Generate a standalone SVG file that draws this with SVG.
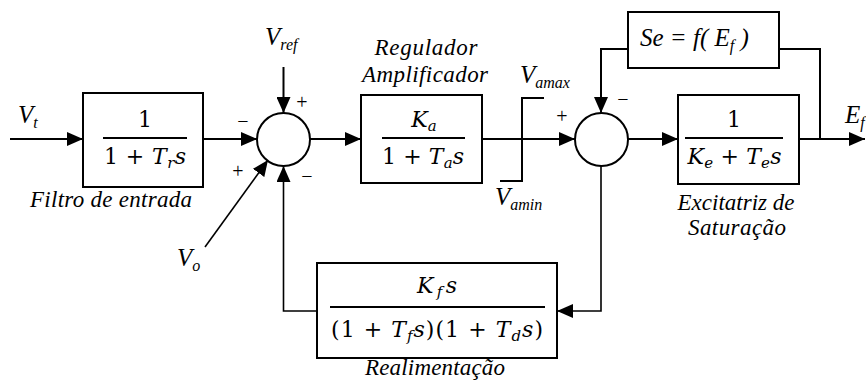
<svg xmlns="http://www.w3.org/2000/svg" width="866" height="385" viewBox="0 0 866 385">
<style>
.blk{fill:#fff;stroke:#000;stroke-width:2}
.frac{stroke:#000;stroke-width:2}
.ln{fill:none;stroke:#000;stroke-width:2}
.fb{fill:none;stroke:#000;stroke-width:1.6}
.lbl{font-family:'Liberation Serif','Times New Roman',serif;font-style:italic;font-size:23px;fill:#000}
.var{font-family:'Liberation Serif','Times New Roman',serif;font-style:italic;font-size:25px;fill:#000}
.math{font-family:'DejaVu Serif','Liberation Serif',serif;font-size:22px;fill:#000}
.it{font-style:italic}
.sign{font-family:'Liberation Serif','Times New Roman',serif;font-size:20px;fill:#000;text-anchor:middle}
</style>
<defs>
<marker id="ah" markerUnits="userSpaceOnUse" markerWidth="16" markerHeight="14" refX="16" refY="7" orient="auto">
<path d="M0,0 L16,7 L0,14 z" fill="#000"/>
</marker>
</defs>
<rect width="866" height="385" fill="#fff"/>

<g id="connectors">
<line class="ln" x1="10" y1="139" x2="83" y2="139" marker-end="url(#ah)"/>
<line class="ln" x1="203" y1="139" x2="257" y2="139" marker-end="url(#ah)"/>
<line class="ln" x1="283.5" y1="67" x2="283.5" y2="113" marker-end="url(#ah)"/>
<line class="ln" x1="310" y1="139" x2="361" y2="139" marker-end="url(#ah)"/>
<line class="ln" x1="482" y1="139" x2="575" y2="139" marker-end="url(#ah)"/>
<line class="ln" x1="628" y1="139" x2="678" y2="139" marker-end="url(#ah)"/>
<line class="ln" x1="799" y1="139" x2="865" y2="139" marker-end="url(#ah)"/>
<polyline class="ln" points="820,139 820,49 779,49"/>
<polyline class="ln" points="628,49 601,49 601,113" marker-end="url(#ah)"/>
<polyline class="fb" points="601,166 601,311 557,311" marker-end="url(#ah)"/>
<polyline class="fb" points="317,311 283.5,311 283.5,166" marker-end="url(#ah)"/>
<line class="fb" x1="205" y1="247" x2="268" y2="160" marker-end="url(#ah)"/>
</g>

<g id="limiter">
<polyline class="ln" points="500,181 522,181 522,98 544,98"/>
</g>

<g id="filtro">
<rect class="blk" x="83" y="93" width="120" height="94"/>
<line class="frac" x1="103" y1="138" x2="187" y2="138"/>
<text class="math" x="145" y="127" text-anchor="middle">1</text>
<text class="math" x="145" y="164" text-anchor="middle" textLength="82" lengthAdjust="spacing">1 + <tspan class="it">T</tspan><tspan class="it" font-size="15" dy="4">r</tspan><tspan class="it" dy="-4">s</tspan></text>
<text class="lbl" x="111" y="207" text-anchor="middle" textLength="162" lengthAdjust="spacing">Filtro de entrada</text>
</g>

<g id="soma1">
<circle class="blk" cx="283.5" cy="139.5" r="26.5"/>
<text class="sign" x="243" y="128">−</text>
<text class="sign" x="302" y="109">+</text>
<text class="sign" x="238" y="178">+</text>
<text class="sign" x="307" y="183">−</text>
</g>

<g id="vref"><text class="var" x="265" y="45">V<tspan font-size="16" dy="5">ref</tspan></text></g>
<g id="vt"><text class="var" x="18" y="123">V<tspan font-size="16" dy="5">t</tspan></text></g>
<g id="vo"><text class="var" x="177" y="266">V<tspan font-size="16" dy="5">o</tspan></text></g>

<g id="regulador">
<rect class="blk" x="361" y="95" width="121" height="88"/>
<line class="frac" x1="382" y1="138" x2="465" y2="138"/>
<text class="math" x="424" y="127" text-anchor="middle"><tspan class="it">K</tspan><tspan class="it" font-size="15" dy="4">a</tspan></text>
<text class="math" x="423" y="164" text-anchor="middle" textLength="82" lengthAdjust="spacing">1 + <tspan class="it">T</tspan><tspan class="it" font-size="15" dy="4">a</tspan><tspan class="it" dy="-4">s</tspan></text>
<text class="lbl" x="426" y="55" text-anchor="middle" textLength="103" lengthAdjust="spacing">Regulador</text>
<text class="lbl" x="425" y="82" text-anchor="middle" textLength="126" lengthAdjust="spacing">Amplificador</text>
</g>

<g id="vamax"><text class="var" x="520" y="83">V<tspan font-size="16" dy="5">amax</tspan></text></g>
<g id="vamin"><text class="var" x="495" y="205">V<tspan font-size="16" dy="5">amin</tspan></text></g>

<g id="soma2">
<circle class="blk" cx="601.5" cy="139.5" r="26.5"/>
<text class="sign" x="562" y="123">+</text>
<text class="sign" x="623" y="106">−</text>
</g>

<g id="saturacao">
<rect class="blk" x="628" y="12" width="151" height="56"/>
<text class="var" x="640" y="46">Se = f( E<tspan font-size="16" dy="5">f</tspan><tspan dy="-5"> )</tspan></text>
</g>

<g id="excitatriz">
<rect class="blk" x="678" y="95" width="121" height="89"/>
<line class="frac" x1="685" y1="138" x2="783" y2="138"/>
<text class="math" x="734" y="127" text-anchor="middle">1</text>
<text class="math" x="734.5" y="164" text-anchor="middle" textLength="94" lengthAdjust="spacing"><tspan class="it">K</tspan><tspan class="it" font-size="15" dy="4">e</tspan><tspan dy="-4"> + </tspan><tspan class="it">T</tspan><tspan class="it" font-size="15" dy="4">e</tspan><tspan class="it" dy="-4">s</tspan></text>
<text class="lbl" x="736" y="210" text-anchor="middle" textLength="117" lengthAdjust="spacing">Excitatriz de</text>
<text class="lbl" x="737" y="235" text-anchor="middle" textLength="98" lengthAdjust="spacing">Saturação</text>
</g>

<g id="ef"><text class="var" x="845" y="123">E<tspan font-size="16" dy="5">f</tspan></text></g>

<g id="realimentacao">
<rect class="blk" x="317" y="263" width="240" height="95"/>
<line class="frac" x1="330" y1="307" x2="545" y2="307"/>
<text class="math" x="437" y="293" text-anchor="middle" textLength="40" lengthAdjust="spacing"><tspan class="it">K</tspan><tspan class="it" font-size="15" dy="4">f</tspan><tspan class="it" dy="-4">s</tspan></text>
<text class="math" x="437" y="337" text-anchor="middle" textLength="212" lengthAdjust="spacing">(1 + <tspan class="it">T</tspan><tspan class="it" font-size="15" dy="4">f</tspan><tspan class="it" dy="-4">s</tspan>)(1 + <tspan class="it">T</tspan><tspan class="it" font-size="15" dy="4">d</tspan><tspan class="it" dy="-4">s</tspan>)</text>
<text class="lbl" x="435" y="375" text-anchor="middle" textLength="140" lengthAdjust="spacing">Realimentação</text>
</g>
</svg>
